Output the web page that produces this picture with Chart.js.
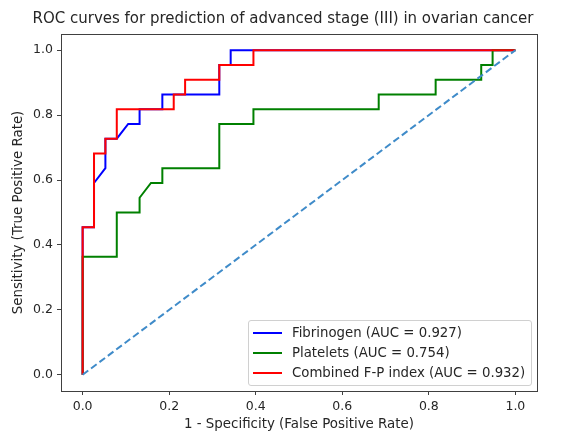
<!DOCTYPE html>
<html>
<head>
<meta charset="utf-8">
<script src="https://cdn.jsdelivr.net/npm/chart.js@4/dist/chart.umd.min.js"></script>
<style>
  body { margin: 0; background: #fff; }
  #wrap { position: relative; width: 566px; height: 434px; }
  #legend {
    position: absolute; left: 248px; top: 320px; width: 284px; height: 66px;
    box-sizing: border-box; border: 1px solid #d0d0d0; border-radius: 3px;
    background: rgba(255,255,255,0.8);
    font-family: "DejaVu Sans", sans-serif; font-size: 13.3px; color: #262626;
  }
  .row { position: absolute; left: 0; height: 20px; line-height: 20px; white-space: nowrap; }
  .row span.swatch { position: absolute; left: 4px; top: 9px; width: 29px; height: 2px; }
  .row span.txt { position: absolute; left: 43px; top: 0; }
</style>
</head>
<body>
<div id="wrap">
  <canvas id="roc" width="566" height="434"></canvas>
  <div id="legend"></div>
</div>
<script>
// ROC points, False Positive Rate (x) and True Positive Rate (y)
const fibrinogenFpr = [0, 0, 0.0263, 0.0263, 0.0526, 0.0526, 0.0789, 0.1053, 0.1316, 0.1316, 0.1842, 0.1842, 0.3158, 0.3158, 0.3421, 0.3421, 1];
const fibrinogenTpr = [0, 0.4545, 0.4545, 0.5909, 0.6364, 0.7273, 0.7273, 0.7727, 0.7727, 0.8182, 0.8182, 0.8636, 0.8636, 0.9545, 0.9545, 1, 1];

const plateletsFpr = [0, 0, 0.0789, 0.0789, 0.1316, 0.1316, 0.1579, 0.1842, 0.1842, 0.3158, 0.3158, 0.3947, 0.3947, 0.6842, 0.6842, 0.8158, 0.8158, 0.9211, 0.9211, 0.9474, 0.9474, 1];
const plateletsTpr = [0, 0.3636, 0.3636, 0.5, 0.5, 0.5455, 0.5909, 0.5909, 0.6364, 0.6364, 0.7727, 0.7727, 0.8182, 0.8182, 0.8636, 0.8636, 0.9091, 0.9091, 0.9545, 0.9545, 1, 1];

const combinedFpr = [0, 0, 0.0263, 0.0263, 0.0526, 0.0526, 0.0789, 0.0789, 0.2105, 0.2105, 0.2368, 0.2368, 0.3158, 0.3158, 0.3947, 0.3947, 1];
const combinedTpr = [0, 0.4545, 0.4545, 0.6818, 0.6818, 0.7273, 0.7273, 0.8182, 0.8182, 0.8636, 0.8636, 0.9091, 0.9091, 0.9545, 0.9545, 1, 1];

const chanceFpr = [0, 1];
const chanceTpr = [0, 1];

const seriesLabels = ["Fibrinogen (AUC = 0.927)", "Platelets (AUC = 0.754)", "Combined F-P index (AUC = 0.932)"];
const seriesColors = ["#0000ff", "#008000", "#ff0000"];
const tickValues = [0, 0.2, 0.4, 0.6, 0.8, 1.0];

const FONT = "'DejaVu Sans', sans-serif";
const TXT = "#262626";

function pts(xs, ys) {
    return xs.map((x, i) => ({ x: x, y: ys[i] }));
}

// first dataset is drawn on top in Chart.js
const data = {
    datasets: [
        { label: "chance", data: pts(chanceFpr, chanceTpr), borderColor: "#3f8bc9", borderDash: [7, 3.5], borderWidth: 2 },
        { label: seriesLabels[2], data: pts(combinedFpr, combinedTpr), borderColor: seriesColors[2], borderWidth: 2 },
        { label: seriesLabels[1], data: pts(plateletsFpr, plateletsTpr), borderColor: seriesColors[1], borderWidth: 2 },
        { label: seriesLabels[0], data: pts(fibrinogenFpr, fibrinogenTpr), borderColor: seriesColors[0], borderWidth: 2 }
    ]
};

function axis(titleText, titlePad) {
    return {
        type: "linear",
        min: -0.05,
        max: 1.05,
        afterBuildTicks: s => { s.ticks = tickValues.map(v => ({ value: v })); },
        ticks: { callback: v => v.toFixed(1), font: { family: FONT, size: 12.5 }, color: TXT, padding: 4 },
        grid: { display: true, drawOnChartArea: false, drawTicks: true, tickLength: 4, color: "#404040" },
        border: { display: false },
        title: { display: true, text: titleText, font: { family: FONT, size: 13.4 }, color: TXT, padding: titlePad }
    };
}

const frame = {
    id: "frame",
    afterDatasetsDraw(chart) {
        const a = chart.chartArea, ctx = chart.ctx;
        ctx.save();
        ctx.strokeStyle = "#404040";
        ctx.lineWidth = 1;
        ctx.strokeRect(Math.round(a.left) + 0.5, Math.round(a.top) + 0.5, Math.round(a.right - a.left), Math.round(a.bottom - a.top));
        ctx.restore();
    }
};

const xAxis = axis("1 - Specificity (False Positive Rate)", { top: 2, bottom: 1 });
xAxis.afterFit = s => { s.height = 43; };
const yAxis = axis("Sensitivity (True Positive Rate)", { top: 10, bottom: 2 });
yAxis.afterFit = s => { s.width = 61; };

// empty right axis keeps the right margin while the title stays centred on the canvas
const rightGap = {
    type: "linear",
    position: "right",
    display: true,
    ticks: { display: false },
    grid: { display: false },
    border: { display: false },
    afterFit: s => { s.width = 29; }
};

const config = {
    type: "line",
    data: data,
    options: {
        responsive: false,
        animation: false,
        parsing: false,
        elements: { point: { radius: 0 }, line: { tension: 0 } },
        layout: { padding: 0 },
        scales: { x: xAxis, y: yAxis, gap: rightGap },
        plugins: {
            legend: { display: false },
            tooltip: { enabled: false },
            title: {
                display: true,
                text: "ROC curves for prediction of advanced stage (III) in ovarian cancer",
                font: { family: FONT, size: 15, weight: "normal" },
                color: TXT,
                padding: { top: 10, bottom: 6 }
            }
        }
    },
    plugins: [frame]
};

const rocChart = new Chart(document.getElementById("roc"), config);

// legend inside the plot, lower right
const legendBox = document.getElementById("legend");
seriesLabels.forEach((lab, i) => {
    const row = document.createElement("div");
    row.className = "row";
    row.style.top = (2 + i * 20) + "px";
    row.innerHTML = '<span class="swatch" style="background:' + seriesColors[i] + '"></span><span class="txt"></span>';
    row.querySelector(".txt").textContent = lab;
    legendBox.appendChild(row);
});
</script>
</body>
</html>
